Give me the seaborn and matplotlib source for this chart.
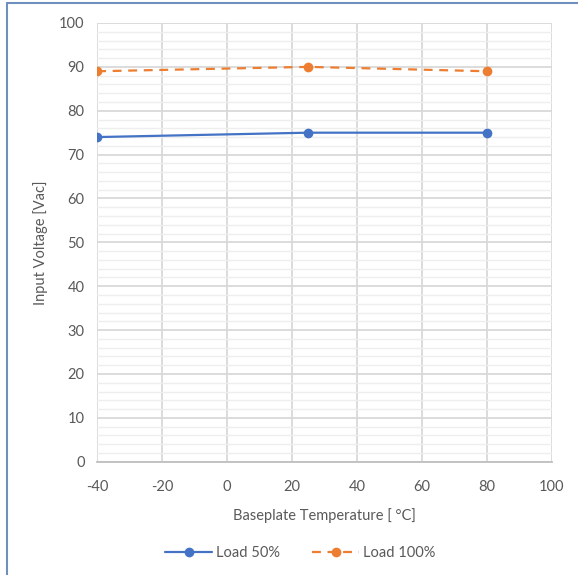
import pandas as pd
import matplotlib.pyplot as plt
import seaborn as sns
from matplotlib.lines import Line2D
from matplotlib.ticker import MultipleLocator

temps = [-40, 25, 80]
load50 = [74, 75, 75]
load100 = [89, 90, 89]

df = pd.DataFrame({
    'Temp': temps * 2,
    'Vin': load50 + load100,
    'Series': ['Load 50%'] * 3 + ['Load 100%'] * 3,
})

sns.set_style('white')
plt.rcParams['font.family'] = ['Lato', 'DejaVu Sans']
plt.rcParams['axes.unicode_minus'] = False
gray = '#595959'

fig = plt.figure(figsize=(5.78, 5.75), dpi=100)
ax = fig.add_axes([0.168, 0.197, 0.787, 0.763])

ax.set_xlim(-40, 100)
ax.set_ylim(0, 100)
ax.xaxis.set_major_locator(MultipleLocator(20))
ax.yaxis.set_major_locator(MultipleLocator(10))
ax.yaxis.set_minor_locator(MultipleLocator(2))
ax.grid(which='major', color='#d9d9d9', lw=1.3)
ax.grid(which='minor', axis='y', color='#eeeeee', lw=1.0)
ax.set_axisbelow(True)

sns.lineplot(data=df, x='Temp', y='Vin', hue='Series', style='Series',
             palette={'Load 50%': '#4472C4', 'Load 100%': '#ED7D31'},
             dashes={'Load 50%': '', 'Load 100%': (4, 3)},
             markers={'Load 50%': 'o', 'Load 100%': 'o'},
             markersize=7, markeredgewidth=0, lw=1.6, ax=ax, legend=False)

for s in ['top', 'right', 'left']:
    ax.spines[s].set_visible(False)
ax.spines['bottom'].set_color('#bfbfbf')
ax.spines['bottom'].set_linewidth(1.3)

ax.tick_params(which='both', length=0, colors=gray, labelsize=10.5)
ax.tick_params(axis='x', pad=13)
ax.tick_params(axis='y', pad=9)
ax.set_xlabel('Baseplate Temperature [ °C]', color=gray, fontsize=10.5, labelpad=10)
ax.set_ylabel('Input Voltage [Vac]', color=gray, fontsize=10.5, labelpad=8)

handles = [
    Line2D([], [], color='#4472C4', lw=1.6, marker='o', markersize=7, markeredgewidth=0),
    Line2D([], [], color='#ED7D31', lw=1.6, ls=(0, (4, 3)), marker='o', markersize=7, markeredgewidth=0),
]
leg = fig.legend(handles, ['Load 50%', 'Load 100%'], loc='center', bbox_to_anchor=(0.52, 0.038),
                 ncol=2, frameon=False, fontsize=10.5, handlelength=3.2, columnspacing=2.2, handletextpad=0.3)
for t in leg.get_texts():
    t.set_color(gray)

# chart frame (left and top edges visible)
fig.add_artist(Line2D([0.0115, 0.0115], [0, 0.994], transform=fig.transFigure, color='#6f8fbf', lw=1.5))
fig.add_artist(Line2D([0.0115, 1], [0.994, 0.994], transform=fig.transFigure, color='#6f8fbf', lw=1.5))

fig.savefig('out.png', dpi=100)
